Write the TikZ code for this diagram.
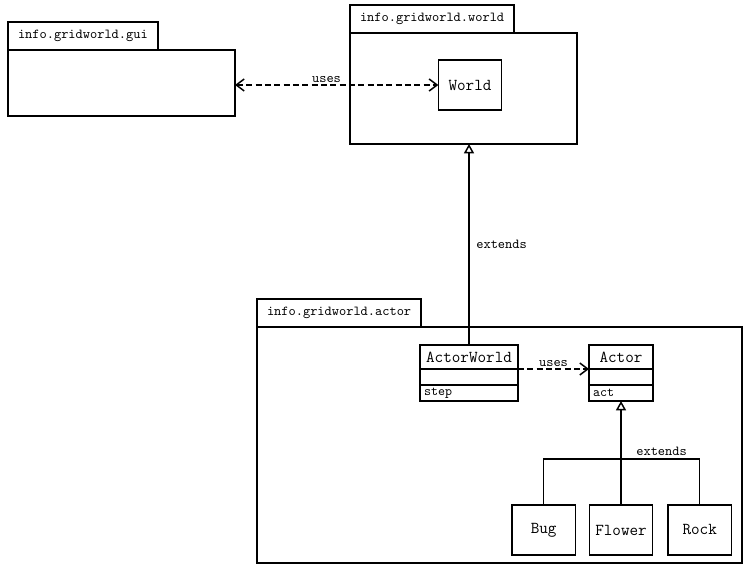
\documentclass[tikz,border=0pt]{standalone}
\usetikzlibrary{arrows.meta,positioning}

\begin{document}
\begin{tikzpicture}[x=0.75pt,y=-0.75pt,font=\ttfamily,line width=1.1pt,
    every node/.style={outer sep=0pt},
    >={Straight Barb[length=6pt,width=9pt]},
    pkg/.style={draw,inner sep=0pt,anchor=north west},
    tab/.style={draw,anchor=south west,minimum height=21pt,inner xsep=7.5pt,font=\ttfamily\fontsize{10.3}{12}\selectfont},
    box/.style={draw,minimum width=47.5pt,minimum height=37.5pt,font=\ttfamily\fontsize{12.5}{14}\selectfont},
    cname/.style={draw,minimum height=18pt,inner xsep=3pt,inner ysep=2pt,font=\ttfamily\fontsize{12.5}{14}\selectfont},
    cpart/.style={draw,minimum height=12pt,inner xsep=3pt,inner ysep=0pt,align=left,font=\ttfamily\fontsize{10}{11}\selectfont},
    lbl/.style={font=\ttfamily\fontsize{10.3}{12}\selectfont,inner sep=1.5pt},
    dep/.style={dash pattern=on 4.5pt off 2.5pt},
    gen/.style={-{Triangle[open,length=7pt,width=7.5pt]}}]
  \useasboundingbox (0,0) rectangle (755,580);

  % gui package
  \node[pkg,minimum width=170.25pt,minimum height=49.5pt] (gui) at (8,50) {};
  \node[tab] (guitab) at (gui.north west) {info.gridworld.gui};

  % world package
  \node[pkg,minimum width=170.25pt,minimum height=83.25pt] (wld) at (350,33) {};
  \node[tab] (wldtab) at (wld.north west) {info.gridworld.world};
  \node[box] (world) at (470,85) {World};

  % actor package
  \node[pkg,minimum width=363.75pt,minimum height=177pt] (act) at (257,327) {};
  \node[tab] (acttab) at (act.north west) {info.gridworld.actor};

  \node[cname,minimum width=73.5pt] (aw) at (469,357) {ActorWorld};
  \node[cpart,minimum width=73.5pt,below=0pt of aw] (awattr) {};
  \node[cpart,text width=67.5pt,below=0pt of awattr] (awop) {step};

  \node[cname,minimum width=48pt] (actor) at (621,357) {Actor};
  \node[cpart,minimum width=48pt,below=0pt of actor] (actattr) {};
  \node[cpart,text width=42pt,below=0pt of actattr] (actop) {act};

  \node[box] (flower) at (621,530) {Flower};
  \node[box,left=10.5pt of flower] (bug) {Bug};
  \node[box,right=11.5pt of flower] (rock) {Rock};
  \coordinate (split) at (621,459);

  % connectors
  \draw[dep,<->] (gui.east |- world.west) -- node[lbl,above,pos=0.45] (uses1) {uses} (world.west);
  \draw[dep,->] (aw.south east) -- node[lbl,above] (uses2) {uses} (actor.south west);
  \draw[gen] (aw.north) -- node[lbl,right=4pt] (ext1) {extends} (aw.north |- wld.south);
  \draw[gen] (flower.north) -- (actop.south);
  \draw (bug.north) |- (split) -| (rock.north);
  \node[lbl,above right=1pt and 10pt of split] (ext2) {extends};
\end{tikzpicture}
\end{document}
